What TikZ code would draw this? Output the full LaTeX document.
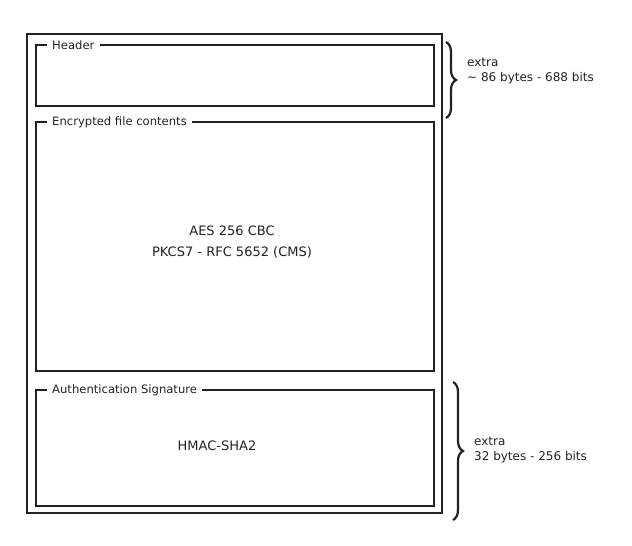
\documentclass[tikz,border=0pt]{standalone}
\usepackage{fontspec}
\setmainfont{DejaVu Sans}
\usetikzlibrary{decorations.pathreplacing}
\definecolor{ink}{HTML}{222222}
\tikzset{
  frame/.style={draw=ink, line width=1.4pt},
  ttl/.style={anchor=west, inner xsep=5pt, inner ysep=0pt, font=\fontsize{11.6}{13}\selectfont, text=ink},
  txt/.style={font=\fontsize{12}{15.5}\selectfont, text=ink, align=left, inner sep=0pt},
  ctxt/.style={font=\fontsize{13}{21}\selectfont, text=ink, align=center, inner sep=0pt},
  brc/.style={draw=ink, line width=2.2pt, decorate, decoration={brace, amplitude=10pt, aspect=0.5}},
}
\begin{document}
\begin{tikzpicture}[x=1pt, y=-1pt]
\useasboundingbox (0,0) rectangle (632,546);
% outer frame
\draw[frame] (27,34) rectangle (442,513);
% header
\coordinate (hTL) at (36,45);
\coordinate (hTR) at (434,45);
\coordinate (hBR) at (434,106);
\coordinate (hBL) at (36,106);
\node[ttl] (hT) at (47,45) {Header};
\draw[frame] (hT.west) -- (hTL) -- (hBL) -- (hBR) -- (hTR) -- (hT.east);
% encrypted
\coordinate (eTL) at (36,122);
\coordinate (eTR) at (434,122);
\coordinate (eBR) at (434,371);
\coordinate (eBL) at (36,371);
\node[ttl] (eT) at (47,122) {Encrypted file contents};
\draw[frame] (eT.west) -- (eTL) -- (eBL) -- (eBR) -- (eTR) -- (eT.east);
\node[ctxt] (eC) at (232,242) {AES 256 CBC\\PKCS7 - RFC 5652 (CMS)};
% authentication
\coordinate (aTL) at (36,390);
\coordinate (aTR) at (434,390);
\coordinate (aBR) at (434,506);
\coordinate (aBL) at (36,506);
\node[ttl] (aT) at (47,390) {Authentication Signature};
\draw[frame] (aT.west) -- (aTL) -- (aBL) -- (aBR) -- (aTR) -- (aT.east);
\node[ctxt] (aC) at (217,446) {HMAC-SHA2};
% braces
\coordinate (b1s) at (446,42);
\coordinate (b1e) at (446,118);
\draw[brc] (b1s) -- (b1e);
\node[txt, anchor=west] (b1t) at (467,71) {extra\\\textasciitilde{} 86 bytes - 688 bits};
\coordinate (b2s) at (453,382);
\coordinate (b2e) at (453,520);
\draw[brc] (b2s) -- (b2e);
\node[txt, anchor=west] (b2t) at (474,450) {extra\\32 bytes - 256 bits};
\end{tikzpicture}
\end{document}
